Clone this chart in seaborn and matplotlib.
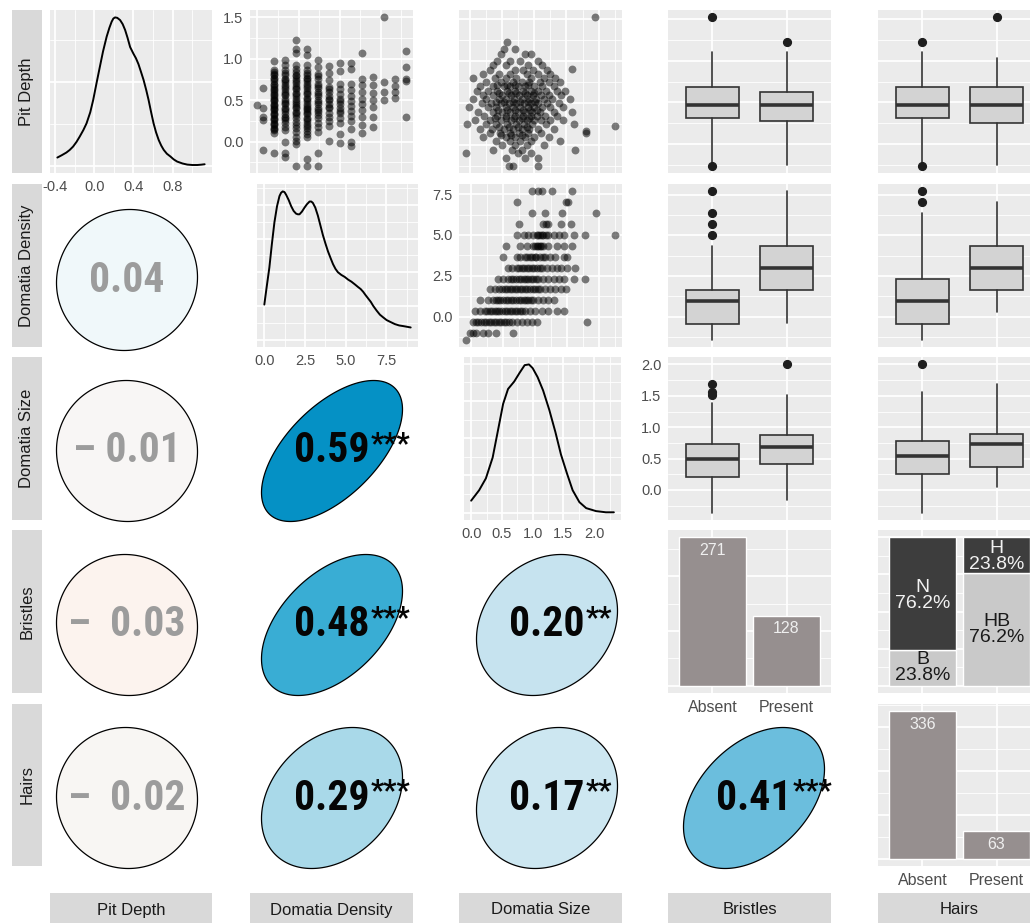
import numpy as np
import matplotlib
matplotlib.use("Agg")
import matplotlib.pyplot as plt
import matplotlib.font_manager as fm
import seaborn as sns
from matplotlib.colors import LinearSegmentedColormap
from matplotlib.patches import Polygon
from matplotlib.ticker import FixedLocator, MultipleLocator, NullLocator

# ------------------------------------------------------------------ data
VARIABLES = ["Pit Depth", "Domatia Density", "Domatia Size", "Bristles", "Hairs"]
LEVELS = ["Absent", "Present"]

# kernel density curves on the diagonal
PIT_GRID = [-0.375, -0.33, -0.283, -0.25, -0.215, -0.18, -0.147, -0.11, -0.078, -0.04,
            -0.010, 0.025, 0.058, 0.09, 0.127, 0.155, 0.178, 0.195, 0.212, 0.235,
            0.264, 0.29, 0.315, 0.34, 0.366, 0.40, 0.425, 0.451, 0.478, 0.503, 0.53,
            0.554, 0.58, 0.605, 0.63, 0.657, 0.683, 0.708, 0.74, 0.777, 0.81, 0.845,
            0.90, 0.948, 1.00, 1.05, 1.09, 1.125]
PIT_DENS = [0.096, 0.124, 0.156, 0.186, 0.227, 0.283, 0.347, 0.425, 0.504, 0.637,
            0.784, 0.991, 1.181, 1.363, 1.540, 1.646, 1.719, 1.756, 1.770, 1.765,
            1.738, 1.690, 1.620, 1.526, 1.416, 1.336, 1.283, 1.212, 1.115, 1.023, 0.903,
            0.784, 0.637, 0.504, 0.398, 0.306, 0.239, 0.188, 0.142, 0.108, 0.074, 0.048,
            0.025, 0.012, 0.007, 0.007, 0.011, 0.016]

DDENS_GRID = [0.00, 0.15, 0.31, 0.46, 0.62, 0.78, 0.93, 1.03, 1.13, 1.24, 1.34, 1.50,
              1.65, 1.80, 1.95, 2.06, 2.16, 2.31, 2.47, 2.62, 2.78, 2.88, 2.98, 3.13,
              3.29, 3.45, 3.60, 3.75, 3.91, 4.07, 4.22, 4.37, 4.52, 4.73, 4.94, 5.15,
              5.35, 5.56, 5.76, 5.92, 6.07, 6.22, 6.38, 6.54, 6.69, 6.90, 7.10, 7.30,
              7.51, 7.76, 8.02, 8.28, 8.54, 8.77, 8.99]
DDENS_DENS = [0.052, 0.079, 0.107, 0.141, 0.174, 0.198, 0.213, 0.218, 0.220, 0.219,
              0.215, 0.207, 0.198, 0.191, 0.187, 0.186, 0.186, 0.190, 0.196, 0.201,
              0.205, 0.205, 0.203, 0.196, 0.184, 0.169, 0.155, 0.143, 0.131, 0.121,
              0.112, 0.105, 0.100, 0.096, 0.093, 0.089, 0.086, 0.082, 0.078, 0.075,
              0.071, 0.066, 0.061, 0.056, 0.050, 0.043, 0.037, 0.033, 0.029, 0.026,
              0.023, 0.021, 0.020, 0.019, 0.018]

DSIZE_GRID = [0.00, 0.13, 0.24, 0.35, 0.44, 0.52, 0.60, 0.70, 0.79, 0.87, 0.94, 1.00,
              1.08, 1.17, 1.27, 1.37, 1.46, 1.56, 1.65, 1.76, 1.87, 2.03, 2.19, 2.32]
DSIZE_DENS = [0.080, 0.150, 0.230, 0.370, 0.560, 0.730, 0.830, 0.880, 0.940, 0.990,
              0.995, 0.970, 0.910, 0.820, 0.690, 0.540, 0.390, 0.260, 0.150, 0.070,
              0.030, 0.010, 0.002, 0.002]

PIT_BREAKS = [-0.4, 0.0, 0.4, 0.8]
DDENS_BREAKS = [0.0, 2.5, 5.0, 7.5]
DSIZE_BREAKS = [0.0, 0.5, 1.0, 1.5, 2.0]
PIT_Y_BREAKS = [0.0, 0.5, 1.0, 1.5]

# Pit Depth against Domatia Density: (density, pit depths)
PIT_BY_DDENS = [
    (0.00, [0.44]),
    (0.33, [0.65, 0.40, 0.30, 0.26, -0.10]),
    (1.00, [0.97, 0.87, 0.84, 0.82, 0.80, 0.77, 0.75, 0.73, 0.70, 0.68, 0.66, 0.63,
            0.62, 0.60, 0.57, 0.56, 0.54, 0.52, 0.50, 0.49, 0.46, 0.44, 0.43, 0.41,
            0.39, 0.38, 0.35, 0.33, 0.32, 0.29, 0.27, 0.26, 0.23, 0.21, 0.20, 0.17,
            0.15, 0.14, 0.10, -0.14]),
    (1.67, [0.99, 0.93, 0.86, 0.83, 0.81, 0.76, 0.74, 0.72, 0.68, 0.66, 0.64, 0.60,
            0.58, 0.56, 0.52, 0.49, 0.47, 0.45, 0.41, 0.39, 0.37, 0.33, 0.30, 0.28,
            0.26, 0.22, 0.18, 0.14, 0.00, -0.14, -0.19]),
    (2.33, [1.23, 1.12, 1.07, 0.93, 0.88, 0.84, 0.81, 0.79, 0.75, 0.73, 0.71, 0.67,
            0.65, 0.63, 0.59, 0.57, 0.55, 0.51, 0.49, 0.47, 0.44, 0.42, 0.40, 0.36,
            0.34, 0.32, 0.28, 0.24, 0.20, 0.16, 0.11, 0.06, 0.01, -0.03, -0.29]),
    (3.00, [1.12, 1.04, 0.93, 0.86, 0.83, 0.81, 0.77, 0.75, 0.73, 0.69, 0.67, 0.65,
            0.61, 0.59, 0.57, 0.53, 0.51, 0.49, 0.45, 0.43, 0.41, 0.39, 0.37, 0.35,
            0.33, 0.29, 0.27, 0.25, 0.21, 0.19, 0.17, 0.13, 0.09, 0.05, -0.21, -0.29]),
    (3.67, [0.99, 0.90, 0.82, 0.79, 0.76, 0.70, 0.67, 0.65, 0.60, 0.57, 0.55, 0.50,
            0.48, 0.46, 0.41, 0.38, 0.36, 0.32, 0.28, 0.23, 0.18, 0.12, -0.14, -0.29]),
    (4.33, [0.91, 0.83, 0.74, 0.66, 0.63, 0.60, 0.55, 0.52, 0.50, 0.45, 0.42, 0.40,
            0.35, 0.30, 0.25, 0.19, 0.01]),
    (5.00, [0.95, 0.85, 0.70, 0.63, 0.57, 0.52, 0.49, 0.46, 0.40, 0.37, 0.34, 0.28,
            0.22, 0.09, -0.02]),
    (5.67, [0.95, 0.88, 0.70, 0.62, 0.55, 0.49, 0.43, 0.37, 0.31, 0.25, 0.15, 0.00,
            -0.05]),
    (6.33, [1.07, 0.75, 0.68, 0.60, 0.52, 0.45, 0.38, 0.30, 0.20, 0.10]),
    (7.00, [0.78, 0.68, 0.59, 0.50, 0.42, 0.30, 0.18]),
    (7.67, [1.50, 0.72, 0.60, 0.50]),
    (8.33, [0.75, 0.67, 0.60, 0.53]),
    (9.00, [1.10, 0.90, 0.76, 0.73, 0.30]),
]

# Pit Depth against Domatia Size: (pit depth, domatia sizes)
PIT_SIZE_ROWS = [
    (1.52, [1.95]),
    (1.23, [0.57]),
    (1.15, [0.70, 0.52]),
    (1.08, [0.85, 0.48, 0.95]),
    (1.00, [0.62, 0.78, 1.05, 0.42]),
    (0.95, [0.55, 0.90, 1.12, 0.35]),
    (0.91, [1.59]),
    (0.90, [0.70, 0.98, 0.30, 1.20, 0.82]),
    (0.85, [0.45, 0.62, 0.88, 1.05, 1.25, 0.20]),
    (0.80, [0.38, 0.55, 0.72, 0.95, 1.15, 1.32, 0.05]),
    (0.75, [0.25, 0.48, 0.66, 0.80, 0.92, 1.08, 1.22, 1.40]),
    (0.72, [0.42, 0.58, 0.70, 0.90]),
    (0.70, [0.15, 0.35, 0.52, 0.62, 0.75, 0.86, 1.00, 1.12, 1.30]),
    (0.65, [0.10, 0.28, 0.42, 0.58, 0.70, 0.82, 0.94, 1.05, 1.18, 1.35, 1.48]),
    (0.62, [0.45, 0.60, 0.72, 0.85, 0.99]),
    (0.60, [0.20, 0.36, 0.50, 0.64, 0.76, 0.88, 0.98, 1.10, 1.22, 1.42]),
    (0.55, [0.05, 0.25, 0.45, 0.55, 0.68, 0.80, 0.92, 1.02, 1.15, 1.28, 1.55]),
    (0.52, [0.40, 0.52, 0.66, 0.78, 0.90, 1.01]),
    (0.50, [0.18, 0.32, 0.48, 0.60, 0.72, 0.84, 0.95, 1.06, 1.20, 1.38]),
    (0.45, [-0.02, 0.28, 0.40, 0.55, 0.66, 0.78, 0.90, 1.00, 1.12, 1.25, 1.45]),
    (0.42, [0.44, 0.58, 0.70, 0.82, 0.93, 1.04]),
    (0.40, [0.12, 0.35, 0.50, 0.62, 0.74, 0.86, 0.97, 1.08, 1.30, 1.58]),
    (0.35, [0.22, 0.42, 0.56, 0.70, 0.82, 0.94, 1.04, 1.16, 1.35]),
    (0.32, [0.38, 0.55, 0.68, 0.80, 0.91]),
    (0.30, [0.08, 0.30, 0.48, 0.64, 0.76, 0.88, 1.00, 1.10, 1.25, 1.45]),
    (0.25, [-0.05, 0.25, 0.40, 0.58, 0.72, 0.84, 0.96, 1.18, 1.62]),
    (0.23, [2.25]),
    (0.22, [0.45, 0.60, 0.74, 0.88]),
    (0.20, [0.15, 0.34, 0.52, 0.66, 0.80, 0.92, 1.05, 1.30]),
    (0.17, [1.80]),
    (0.15, [0.30, 0.46, 0.62, 0.76, 0.90, 1.10, 1.80]),
    (0.12, [0.48, 0.64, 0.80]),
    (0.10, [0.20, 0.55, 0.70, 0.85, 1.00, 1.22]),
    (0.05, [0.40, 0.62, 0.78, 0.95, 1.40]),
    (0.00, [0.50, 0.70, 0.88, 1.15]),
    (-0.05, [0.35, 0.65, 0.80, 1.63]),
    (-0.09, [-0.06, 0.75, 0.95]),
    (-0.15, [0.55, 0.85, 1.05]),
    (-0.24, [0.60, 0.66, 1.05]),
]

# Domatia Density against Domatia Size: (density, domatia sizes)
DDENS_SIZE_ROWS = [
    (7.67, [0.95, 1.05, 1.11, 1.27, 1.58]),
    (7.00, [0.71, 1.48, 1.52]),
    (6.33, [0.95, 1.16, 1.42, 1.95]),
    (5.67, [0.75, 1.13, 1.17, 1.21, 1.40, 1.56]),
    (5.00, [0.71, 0.82, 0.89, 0.97, 1.03, 1.05, 1.08, 1.11, 1.13, 1.17, 1.21, 1.29,
            1.37, 1.45, 1.61, 1.79, 2.25]),
    (4.33, [0.55, 0.76, 0.87, 0.97, 1.00, 1.03, 1.05, 1.08, 1.10, 1.13, 1.21, 1.34,
            1.45, 1.58]),
    (3.67, [0.49, 0.71, 0.76, 0.84, 0.88, 0.92, 0.95, 1.00, 1.02, 1.08, 1.12, 1.16,
            1.24, 1.32, 1.45, 1.50]),
    (3.00, [0.58, 0.63, 0.71, 0.74, 0.79, 0.83, 0.87, 0.91, 0.95, 0.99, 1.03, 1.07,
            1.11, 1.19, 1.27, 1.34, 1.40, 1.50, 1.63]),
    (2.33, [0.42, 0.50, 0.58, 0.62, 0.66, 0.70, 0.74, 0.78, 0.82, 0.86, 0.89, 0.93,
            0.97, 1.01, 1.05, 1.13, 1.21, 1.29, 1.37, 1.45, 1.61, 1.79]),
    (1.67, [0.29, 0.37, 0.44, 0.48, 0.52, 0.56, 0.60, 0.64, 0.68, 0.72, 0.76, 0.80,
            0.84, 0.88, 0.92, 0.96, 1.00, 1.04, 1.08, 1.16, 1.24, 1.32, 1.40, 1.48]),
    (1.00, [0.13, 0.26, 0.34, 0.38, 0.42, 0.45, 0.50, 0.54, 0.58, 0.62, 0.66, 0.70,
            0.74, 0.78, 0.82, 0.86, 0.89, 0.93, 0.97, 1.05, 1.13, 1.21, 1.29]),
    (0.33, [0.05, 0.13, 0.21, 0.25, 0.29, 0.33, 0.37, 0.40, 0.44, 0.48, 0.52, 0.56,
            0.60, 0.64, 0.68, 0.72, 0.76, 0.80, 0.84, 0.92, 1.00, 1.11, 1.21, 1.34,
            1.45]),
    (-0.33, [0.02, 0.07, 0.11, 0.15, 0.19, 0.23, 0.27, 0.31, 0.35, 0.39, 0.43, 0.47,
             0.51, 0.55, 0.59, 0.63, 0.71, 0.79, 0.87, 0.95, 1.03, 1.82]),
    (-1.00, [-0.03, 0.02, 0.07, 0.18, 0.26, 0.39, 0.66]),
    (-1.41, [-0.08]),
]

# box summaries: (lower whisker, Q1, median, Q3, upper whisker) per level, plus outliers
PIT_BY_BRISTLES = [(-0.22, 0.31, 0.47, 0.68, 1.10), (-0.25, 0.27, 0.47, 0.63, 1.10)]
PIT_BY_BRISTLES_OUT = [[1.52, -0.26], [1.23]]
PIT_BY_HAIRS = [(-0.22, 0.31, 0.47, 0.68, 1.10), (-0.25, 0.25, 0.47, 0.68, 1.03)]
PIT_BY_HAIRS_OUT = [[1.23, -0.26], [1.52]]
DDENS_BY_BRISTLES = [(-1.41, -0.43, 0.98, 1.66, 4.31), (-0.39, 1.62, 2.99, 4.35, 7.69)]
DDENS_BY_BRISTLES_OUT = [[7.69, 6.36, 5.69, 4.99], []]
DDENS_BY_HAIRS = [(-1.41, -0.43, 0.98, 2.31, 6.36), (0.26, 1.62, 2.99, 4.35, 7.04)]
DDENS_BY_HAIRS_OUT = [[7.69, 7.04], []]
DSIZE_BY_BRISTLES = [(-0.36, 0.21, 0.49, 0.74, 1.39), (-0.16, 0.41, 0.68, 0.88, 1.52)]
DSIZE_BY_BRISTLES_OUT = [[1.69, 1.56, 1.52], [2.00]]
DSIZE_BY_HAIRS = [(-0.36, 0.25, 0.54, 0.78, 1.56), (0.05, 0.37, 0.73, 0.89, 1.69)]
DSIZE_BY_HAIRS_OUT = [[2.00], []]

# counts of the two factors
BRISTLES_COUNTS = [271, 128]
HAIRS_COUNTS = [336, 63]

# Bristles x Hairs proportions (bottom / top segment of each bar)
MOSAIC_BOTTOM_LABELS = ["B", "HB"]
MOSAIC_BOTTOM_PCT = [23.8, 76.2]
MOSAIC_TOP_LABELS = ["N", "H"]
MOSAIC_TOP_PCT = [76.2, 23.8]

# correlations in the lower triangle: (row, col)
CORR_CELLS = [(1, 0), (2, 0), (2, 1), (3, 0), (3, 1), (3, 2), (4, 0), (4, 1), (4, 2), (4, 3)]
CORR_R = [0.04, -0.01, 0.59, -0.03, 0.48, 0.20, -0.02, 0.29, 0.17, 0.41]
CORR_STARS = ["", "", "***", "", "***", "**", "", "***", "**", "***"]

# ------------------------------------------------------------------ style
W, H = 1030, 923
sns.set_theme(style="darkgrid")
plt.rcParams["font.family"] = ["Liberation Sans", "DejaVu Sans"]
plt.rcParams["axes.unicode_minus"] = False

PANEL_BG = "#EBEBEB"
STRIP_BG = "#D9D9D9"
BAR_COLOR = "#968F8F"
MOSAIC_DARK = "#3D3D3D"
MOSAIC_LIGHT = "#C9C9C9"
BOX_FILL = "#D3D3D3"
INK = "#333333"
TICK_TXT = "#4D4D4D"
NONSIG_TXT = "#9C9C9C"


def narrow_bold_font(size):
    """A condensed bold face for the correlation labels, if one is installed."""
    wanted = ["liberationsansnarrow-bold.", "arialnarrowbold", "arial narrow bold",
              "robotocondensed-bold.", "roboto_condensed-bold", "notosans-condensedbold.",
              "opensans-condensedbold", "opensanscondensed-bold",
              "dejavusanscondensed-bold."]
    files = [f.fname for f in fm.fontManager.ttflist]
    for key in wanted:
        for fn in files:
            if key in fn.lower().replace(" ", "") or key in fn.lower():
                return fm.FontProperties(fname=fn, size=size)
    return fm.FontProperties(family="Liberation Sans", weight="bold", size=size - 3)


CORR_FONT = narrow_bold_font(30)
STAR_FONT = CORR_FONT.copy()
STAR_FONT.set_size(21)

corr_cmap = LinearSegmentedColormap.from_list(
    "corr",
    [(0.0, "#D8764A"), (0.475, "#FCF3EE"), (0.4833, "#F8F6F4"), (0.5, "#F7F7F7"),
     (0.533, "#F0F8FA"), (0.667, "#C6E3EF"), (0.75, "#A5D8E8"), (0.842, "#6CBEDD"),
     (0.9, "#3AAED4"), (1.0, "#008FC4")])
CORR_LIMIT = 0.6

# panel geometry in pixels
COL_X = [(50, 212), (250, 413), (459, 622), (668, 831), (878, 1041)]
ROW_Y = [(10, 173), (184, 347), (357, 520), (530, 693), (704, 866)]
DIAG_X = {1: (257, 418), 2: (464, 621)}
ELL_CX = [127, 332, 547, 754]
ELL_CY = [0, 280, 451, 625, 798]
ELL_HALF = 70.5
NEG_GAP = {(2, 0): " ", (3, 0): "  ", (4, 0): "  "}

fig = plt.figure(figsize=(W / 100, H / 100), dpi=100)
fig.patch.set_facecolor("white")


def px_axes(x0, x1, y0, y1):
    return fig.add_axes([x0 / W, 1 - y1 / H, (x1 - x0) / W, (y1 - y0) / H])


def panel(r, c):
    x0, x1 = DIAG_X.get(c, COL_X[c]) if r == c else COL_X[c]
    y0, y1 = ROW_Y[r]
    return px_axes(x0, x1, y0, y1)


def expand(vals, include=None):
    vals = list(vals) + ([include] if include is not None else [])
    lo, hi = min(vals), max(vals)
    pad = (hi - lo) * 0.05
    return lo - pad, hi + pad


def breaks(ax, axis, major, minor=None):
    a = ax.xaxis if axis == "x" else ax.yaxis
    if np.iterable(major):
        a.set_major_locator(FixedLocator(major))
    else:
        a.set_major_locator(MultipleLocator(major))
    a.set_minor_locator(MultipleLocator(minor) if minor else NullLocator())


def finish(ax):
    ax.set_facecolor(PANEL_BG)
    for sp in ax.spines.values():
        sp.set_visible(False)
    ax.set_axisbelow(True)
    ax.grid(False)
    ax.grid(True, which="minor", color="white", lw=0.6)
    ax.grid(True, which="major", color="white", lw=1.25)
    ax.tick_params(which="both", length=0, labelbottom=False, labelleft=False,
                   labeltop=False, labelright=False)
    ax.set_xlabel("")
    ax.set_ylabel("")


def show_axis(ax, axis):
    kw = dict(which="major", length=3.2, width=0.9, color=INK, labelsize=10.5,
              labelcolor=TICK_TXT, pad=1.5)
    if axis == "x":
        ax.tick_params(axis="x", labelbottom=True, **kw)
    else:
        ax.tick_params(axis="y", labelleft=True, **kw)


def density_panel(r, grid, dens, xbreaks, xminor, ystep):
    ax = panel(r, r)
    sns.lineplot(x=grid, y=dens, ax=ax, color="black", lw=1.4)
    ax.set_xlim(*expand(grid))
    ax.set_ylim(*expand(dens, include=0.0))
    breaks(ax, "x", xbreaks, xminor)
    breaks(ax, "y", ystep, ystep / 2)
    finish(ax)
    show_axis(ax, "x")
    return ax


def scatter_panel(r, c, xs, ys, xbreaks, xminor, ybreaks, yminor, yaxis=False):
    ax = panel(r, c)
    sns.scatterplot(x=xs, y=ys, ax=ax, color="black", alpha=0.5, s=32, linewidth=0)
    ax.set_xlim(*expand(xs))
    ax.set_ylim(*expand(ys))
    breaks(ax, "x", xbreaks, xminor)
    breaks(ax, "y", ybreaks, yminor)
    finish(ax)
    if yaxis:
        show_axis(ax, "y")
    return ax


def box_panel(r, c, quants, outs, ybreaks, yminor, yaxis=False):
    ax = panel(r, c)
    stats = [dict(whislo=q[0], q1=q[1], med=q[2], q3=q[3], whishi=q[4], fliers=o)
             for q, o in zip(quants, outs)]
    ax.bxp(stats, positions=[0, 1], widths=0.72, patch_artist=True, showcaps=False,
           manage_ticks=False,
           boxprops=dict(facecolor=BOX_FILL, edgecolor=INK, lw=1.2),
           medianprops=dict(color=INK, lw=2.6, solid_capstyle="butt"),
           whiskerprops=dict(color=INK, lw=1.2),
           flierprops=dict(marker="o", markerfacecolor="#1E1E1E",
                           markeredgecolor="#1E1E1E", markersize=5.6))
    vals = [v for q in quants for v in q] + [v for o in outs for v in o]
    ax.set_ylim(*expand(vals))
    ax.set_xlim(-0.6, 1.6)
    breaks(ax, "x", [0, 1])
    breaks(ax, "y", ybreaks, yminor)
    finish(ax)
    if yaxis:
        show_axis(ax, "y")
    return ax


def count_panel(r, c, counts):
    ax = panel(r, c)
    sns.barplot(x=LEVELS, y=counts, ax=ax, color=BAR_COLOR, saturation=1, width=0.9)
    for bar, n in zip(ax.patches, counts):
        ax.annotate(str(n), (bar.get_x() + bar.get_width() / 2, n),
                    xytext=(0, -9.5), textcoords="offset points", ha="center",
                    va="center", color="#EFEFEF", fontsize=11.5)
    ax.set_xlim(-0.6, 1.6)
    ax.set_ylim(*expand(counts, include=0))
    breaks(ax, "x", [0, 1])
    breaks(ax, "y", 100, 50)
    finish(ax)
    ax.set_xticks([0, 1])
    ax.set_xticklabels(LEVELS)
    show_axis(ax, "x")
    ax.tick_params(axis="x", labelsize=11.5)
    return ax


def flat_cols(rows):
    xs, ys = [], []
    for x, col in rows:
        xs += [x] * len(col)
        ys += col
    return xs, ys


# ------------------------------------------------------------------ diagonal
density_panel(0, PIT_GRID, PIT_DENS, PIT_BREAKS, 0.2, 1.0)
density_panel(1, DDENS_GRID, DDENS_DENS, DDENS_BREAKS, 1.25, 0.05)
density_panel(2, DSIZE_GRID, DSIZE_DENS, DSIZE_BREAKS, 0.25, 0.25)
count_panel(3, 3, BRISTLES_COUNTS)
count_panel(4, 4, HAIRS_COUNTS)

# ------------------------------------------------------------------ upper triangle
dd_x, pit_y = flat_cols(PIT_BY_DDENS)
scatter_panel(0, 1, dd_x, pit_y, DDENS_BREAKS, 1.25, PIT_Y_BREAKS, 0.25, yaxis=True)

pit_rows_y, size_x = flat_cols(PIT_SIZE_ROWS)
scatter_panel(0, 2, size_x, pit_rows_y, DSIZE_BREAKS, 0.25, PIT_Y_BREAKS, 0.25)

dd_rows_y, size2_x = flat_cols(DDENS_SIZE_ROWS)
scatter_panel(1, 2, size2_x, dd_rows_y, DSIZE_BREAKS, 0.25, DDENS_BREAKS, 1.25, yaxis=True)

box_panel(0, 3, PIT_BY_BRISTLES, PIT_BY_BRISTLES_OUT, PIT_Y_BREAKS, 0.25)
box_panel(0, 4, PIT_BY_HAIRS, PIT_BY_HAIRS_OUT, PIT_Y_BREAKS, 0.25)
box_panel(1, 3, DDENS_BY_BRISTLES, DDENS_BY_BRISTLES_OUT, DDENS_BREAKS, 1.25)
box_panel(1, 4, DDENS_BY_HAIRS, DDENS_BY_HAIRS_OUT, DDENS_BREAKS, 1.25)
box_panel(2, 3, DSIZE_BY_BRISTLES, DSIZE_BY_BRISTLES_OUT, DSIZE_BREAKS, 0.25, yaxis=True)
box_panel(2, 4, DSIZE_BY_HAIRS, DSIZE_BY_HAIRS_OUT, DSIZE_BREAKS, 0.25)

# Bristles x Hairs stacked proportions
ax = panel(3, 4)
pos = [0, 1]
ax.bar(pos, MOSAIC_BOTTOM_PCT, width=0.9, color=MOSAIC_LIGHT)
ax.bar(pos, MOSAIC_TOP_PCT, width=0.9, bottom=MOSAIC_BOTTOM_PCT, color=MOSAIC_DARK)
for p, lab, pct in zip(pos, MOSAIC_BOTTOM_LABELS, MOSAIC_BOTTOM_PCT):
    ax.text(p, pct / 2, f"{lab}\n{pct:.1f}%", ha="center", va="center",
            color="#1A1A1A", fontsize=14, linespacing=0.92)
for p, lab, pct, base in zip(pos, MOSAIC_TOP_LABELS, MOSAIC_TOP_PCT, MOSAIC_BOTTOM_PCT):
    ax.text(p, base + pct / 2 - 1.0, f"{lab}\n{pct:.1f}%", ha="center", va="center",
            color="#F2F2F2", fontsize=14, linespacing=0.92)
ax.set_xlim(-0.6, 1.6)
ax.set_ylim(*expand([0, 100]))
breaks(ax, "x", [0, 1])
breaks(ax, "y", 25, 12.5)
finish(ax)

# ------------------------------------------------------------------ lower triangle
norm = lambda r: (r + CORR_LIMIT) / (2 * CORR_LIMIT)
theta = np.linspace(0, 2 * np.pi, 361)
for (r, c), rho, stars in zip(CORR_CELLS, CORR_R, CORR_STARS):
    cx, cy = ELL_CX[c], ELL_CY[r]
    ax = px_axes(cx - ELL_HALF, cx + ELL_HALF, cy - ELL_HALF, cy + ELL_HALF)
    ax.set_xlim(-1, 1)
    ax.set_ylim(-1, 1)
    ax.axis("off")
    d = np.arccos(rho)
    outline = np.column_stack([np.cos(theta + d / 2), np.cos(theta - d / 2)])
    ax.add_patch(Polygon(outline, closed=True, facecolor=corr_cmap(norm(rho)),
                         edgecolor="black", lw=0.9, clip_on=False))
    if rho < 0:
        label = "\u2013" + NEG_GAP.get((r, c), " ") + f"{abs(rho):.2f}"
    else:
        label = f"{rho:.2f}"
    color = "#050505" if stars else NONSIG_TXT
    t = ax.text(0, 0, label, ha="center", va="center", fontproperties=CORR_FONT,
                color=color)
    if stars:
        ax.annotate(stars, xy=(1, 1), xycoords=t, xytext=(0.5, 0.5),
                    textcoords="offset points", ha="left", va="top",
                    fontproperties=STAR_FONT, color=color)

# ------------------------------------------------------------------ strips
for r, name in enumerate(VARIABLES):
    y0, y1 = ROW_Y[r]
    ax = px_axes(12, 42, y0, y1)
    ax.set_facecolor(STRIP_BG)
    ax.set_xticks([])
    ax.set_yticks([])
    for sp in ax.spines.values():
        sp.set_visible(False)
    ax.text(0.5, 0.5, name, rotation=90, ha="center", va="center",
            transform=ax.transAxes, fontsize=12, color="#1A1A1A")

for c, name in enumerate(VARIABLES):
    x0, x1 = COL_X[c]
    ax = px_axes(x0, x1, 893, 927)
    ax.set_facecolor(STRIP_BG)
    ax.set_xticks([])
    ax.set_yticks([])
    for sp in ax.spines.values():
        sp.set_visible(False)
    ax.text(0.5, 0.5, name, ha="center", va="center", transform=ax.transAxes,
            fontsize=12, color="#1A1A1A")

fig.savefig("out.png", dpi=100, facecolor="white")
